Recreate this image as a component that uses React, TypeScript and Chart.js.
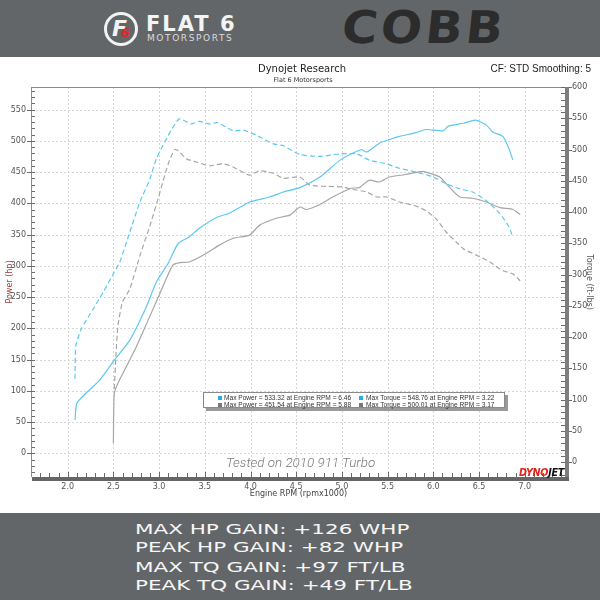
import React, { useEffect, useRef } from 'react';
import { Chart, registerables } from 'chart.js';

Chart.register(...registerables);

// ---------- data ----------
const rpmTicks = [2.0, 2.5, 3.0, 3.5, 4.0, 4.5, 5.0, 5.5, 6.0, 6.5, 7.0];
const powerTicks = [0, 50, 100, 150, 200, 250, 300, 350, 400, 450, 500, 550];
const torqueTicks = [0, 50, 100, 150, 200, 250, 300, 350, 400, 450, 500, 550, 600];

const tunedPowerRpm = [2.08, 2.10, 2.20, 2.35, 2.51, 2.68, 2.86, 2.97, 3.10, 3.21, 3.33, 3.44, 3.64, 3.77, 3.99, 4.21, 4.36, 4.54, 4.76, 4.98, 5.21, 5.27, 5.41, 5.52, 5.63, 5.81, 5.92, 6.11, 6.16, 6.33, 6.46, 6.58, 6.65, 6.76, 6.82, 6.87];
const tunedPowerHp = [53, 80, 96, 117, 149, 181, 234, 274, 304, 336, 346, 360, 378, 384, 402, 410, 418, 425, 442, 469, 486, 482, 496, 502, 507, 513, 518, 516, 523, 528, 533, 525, 514, 507, 490, 469];

const tunedTorqueRpm = [2.08, 2.09, 2.15, 2.28, 2.39, 2.51, 2.57, 2.68, 2.79, 2.90, 2.97, 3.08, 3.22, 3.35, 3.44, 3.55, 3.64, 3.81, 3.92, 4.06, 4.25, 4.36, 4.54, 4.76, 4.98, 5.16, 5.30, 5.49, 5.63, 5.81, 6.00, 6.14, 6.29, 6.43, 6.58, 6.73, 6.82, 6.87];
const tunedTorqueLb = [133, 186, 213, 245, 272, 304, 320, 368, 416, 453, 485, 517, 549, 541, 545, 541, 543, 530, 531, 523, 509, 506, 492, 489, 493, 493, 483, 477, 470, 464, 456, 445, 437, 432, 418, 397, 378, 360];

const stockPowerRpm = [2.50, 2.51, 2.55, 2.64, 2.75, 2.88, 3.01, 3.15, 3.23, 3.33, 3.52, 3.66, 3.81, 3.99, 4.10, 4.28, 4.43, 4.54, 4.61, 4.76, 4.90, 5.10, 5.19, 5.30, 5.41, 5.52, 5.70, 5.88, 5.96, 6.07, 6.18, 6.29, 6.43, 6.58, 6.73, 6.87, 6.95];
const stockPowerHp = [16, 96, 112, 138, 170, 213, 256, 301, 305, 306, 320, 333, 344, 349, 365, 376, 381, 394, 390, 398, 410, 424, 425, 437, 434, 442, 446, 451, 448, 442, 425, 410, 408, 402, 393, 390, 382];

const stockTorqueRpm = [2.51, 2.53, 2.55, 2.60, 2.68, 2.79, 2.90, 3.01, 3.10, 3.17, 3.21, 3.30, 3.41, 3.55, 3.70, 3.81, 3.99, 4.10, 4.25, 4.36, 4.54, 4.65, 4.83, 5.01, 5.12, 5.27, 5.38, 5.49, 5.63, 5.78, 5.92, 6.03, 6.14, 6.25, 6.33, 6.47, 6.62, 6.76, 6.87, 6.95];
const stockTorqueLb = [117, 175, 218, 256, 277, 330, 378, 432, 477, 500, 498, 485, 480, 474, 477, 472, 459, 466, 462, 454, 456, 443, 441, 440, 436, 432, 424, 424, 416, 411, 402, 389, 368, 352, 341, 331, 320, 306, 301, 290];

const legendRows = [
  ['Max Power = 533.32 at Engine RPM = 6.46', 'Max Torque = 548.76 at Engine RPM = 3.22'],
  ['Max Power = 451.54 at Engine RPM = 5.88', 'Max Torque = 500.01 at Engine RPM = 3.17'],
];
const gainLines = ['MAX HP GAIN: +126 WHP', 'PEAK HP GAIN: +82 WHP', 'MAX TQ GAIN: +97 FT/LB', 'PEAK TQ GAIN: +49 FT/LB'];

// ---------- styles ----------
const BLUE = '#5cc8f2';
const GREY = '#a6a6a6';
const BAND = '#636669';
const FONT = '"DejaVu Sans", Verdana, sans-serif';

const pts = (xs: number[], ys: number[]) => xs.map((x, i) => ({ x, y: ys[i] }));

const framePlugin = {
  id: 'dynoFrame',
  beforeDatasetsDraw(chart: any) {
    const { ctx, chartArea: a, scales } = chart;
    const sx = scales.x, sy = scales.y;
    ctx.save();
    ctx.strokeStyle = '#d6d6d6';
    ctx.lineWidth = 1;
    ctx.setLineDash([2, 2]);
    ctx.beginPath();
    for (const v of rpmTicks) {
      const p = Math.round(sx.getPixelForValue(v)) + 0.5;
      ctx.moveTo(p, a.top); ctx.lineTo(p, a.bottom);
    }
    for (const v of powerTicks) {
      const p = Math.round(sy.getPixelForValue(v)) + 0.5;
      ctx.moveTo(a.left, p); ctx.lineTo(a.right, p);
    }
    ctx.stroke();
    ctx.restore();
  },
  afterDatasetsDraw(chart: any) {
    const { ctx, chartArea: a, scales } = chart;
    const sx = scales.x, sy = scales.y, sy1 = scales.y1;
    ctx.save();
    ctx.setLineDash([]);
    ctx.lineWidth = 1;
    ctx.strokeStyle = '#8a8a8a';
    ctx.beginPath();
    ctx.moveTo(a.left - 0.5, a.top + 0.5); ctx.lineTo(a.right, a.top + 0.5);
    ctx.moveTo(a.left - 0.5, a.top); ctx.lineTo(a.left - 0.5, a.bottom);
    ctx.stroke();
    ctx.strokeStyle = '#6a6a6a';
    ctx.beginPath();
    for (let i = 17; i <= 74; i++) {
      const v = i / 10;
      const p = Math.round(sx.getPixelForValue(v)) + 0.5;
      const major = i % 5 === 0;
      ctx.moveTo(p, a.bottom); ctx.lineTo(p, a.bottom - (major ? 5 : 4));
    }
    for (let v = -30; v <= 580; v += 10) {
      const p = Math.round(sy.getPixelForValue(v)) + 0.5;
      const major = v % 50 === 0 && v >= 0;
      ctx.moveTo(a.left - (major ? 5 : 0), p); ctx.lineTo(a.left + 3, p);
    }
    for (let v = -20; v <= 600; v += 10) {
      const p = Math.round(sy1.getPixelForValue(v)) + 0.5;
      const major = v % 50 === 0 && v >= 0;
      ctx.moveTo(a.right - 4, p); ctx.lineTo(a.right + (major ? 7 : 0), p);
    }
    ctx.stroke();
    ctx.fillStyle = '#7d7d7d';
    ctx.fillRect(a.right, a.top, 4, a.bottom - a.top + 4);
    ctx.fillStyle = '#666666';
    ctx.fillRect(a.left, a.bottom, a.right - a.left + 4, 4);
    ctx.restore();
  },
};

function DynoChart() {
  const ref = useRef<HTMLCanvasElement | null>(null);
  useEffect(() => {
    if (!ref.current) return;
    const tickFont = { family: FONT, size: 8 };
    const chart = new Chart(ref.current, {
      type: 'line',
      data: {
        datasets: [
          { label: 'Power tuned', data: pts(tunedPowerRpm, tunedPowerHp), yAxisID: 'y', borderColor: BLUE, borderWidth: 1.2, pointRadius: 0, tension: 0.2 },
          { label: 'Torque tuned', data: pts(tunedTorqueRpm, tunedTorqueLb), yAxisID: 'y1', borderColor: BLUE, borderWidth: 1.2, borderDash: [5, 3], pointRadius: 0, tension: 0.2 },
          { label: 'Power stock', data: pts(stockPowerRpm, stockPowerHp), yAxisID: 'y', borderColor: GREY, borderWidth: 1.2, pointRadius: 0, tension: 0.2 },
          { label: 'Torque stock', data: pts(stockTorqueRpm, stockTorqueLb), yAxisID: 'y1', borderColor: GREY, borderWidth: 1.2, borderDash: [5, 3], pointRadius: 0, tension: 0.2 },
        ],
      },
      options: {
        responsive: false,
        animation: false,
        devicePixelRatio: 1,
        layout: { padding: { top: 87, bottom: 98, left: 0, right: 0 } },
        plugins: { legend: { display: false }, tooltip: { enabled: false } },
        scales: {
          x: {
            type: 'linear', min: 1.61, max: 7.44,
            afterBuildTicks: (s: any) => { s.ticks = rpmTicks.map((value) => ({ value })); },
            afterFit: (s: any) => { s.height = 25; },
            ticks: { font: tickFont, color: '#555', padding: 5, maxRotation: 0, autoSkip: false, callback: (v: any) => Number(v).toFixed(1) },
            grid: { display: false, drawTicks: false },
            border: { display: false },
            title: { display: true, text: 'Engine RPM (rpmx1000)', color: '#444', font: { family: FONT, size: 8 }, padding: { top: 3, bottom: 3 } },
          },
          y: {
            type: 'linear', position: 'left', min: -38, max: 586,
            afterBuildTicks: (s: any) => { s.ticks = powerTicks.map((value) => ({ value })); },
            afterFit: (s: any) => { s.width = 32; },
            ticks: { font: tickFont, color: '#555', padding: 6 },
            grid: { display: false, drawTicks: false },
            border: { display: false },
            title: { display: true, text: 'Power (hp)', color: '#9a3a3a', font: { family: FONT, size: 8 }, padding: { top: 5, bottom: 5 } },
          },
          y1: {
            type: 'linear', position: 'right', min: -24, max: 600,
            afterBuildTicks: (s: any) => { s.ticks = torqueTicks.map((value) => ({ value })); },
            afterFit: (s: any) => { s.width = 35; },
            ticks: { font: tickFont, color: '#555', padding: 7 },
            grid: { display: false, drawTicks: false },
            border: { display: false },
            title: { display: true, text: 'Torque (ft-lbs)', color: '#555', font: { family: FONT, size: 8 }, padding: { top: 6, bottom: 6 } },
          },
        },
      },
      plugins: [framePlugin],
    } as any);
    return () => chart.destroy();
  }, []);
  return <canvas ref={ref} width={600} height={600} style={{ position: 'absolute', left: 0, top: 0, width: 600, height: 600 }} />;
}

const abs = (s: React.CSSProperties): React.CSSProperties => ({ position: 'absolute', whiteSpace: 'nowrap', ...s });

export default function App() {
  return (
    <div style={{ position: 'absolute', left: 0, top: 0, width: 600, height: 600, overflow: 'hidden', background: '#fff', fontFamily: FONT }}>
      <div style={abs({ left: 0, top: 0, width: 600, height: 57, background: BAND })}>
        <div style={abs({ left: 104, top: 12, width: 28, height: 28, border: '3px solid #f2f2f2', borderRadius: '50%' })}>
          <div style={abs({ left: 5, top: 0, fontSize: 22, fontWeight: 'bold', fontStyle: 'italic', color: '#f2f2f2', lineHeight: '28px' })}>F</div>
          <div style={abs({ left: 14, top: 10, fontSize: 13, fontWeight: 'bold', fontStyle: 'italic', color: '#e0262b', lineHeight: '16px' })}>6</div>
        </div>
        <div style={abs({ left: 146, top: 12, fontSize: 21, fontWeight: 'bold', color: '#f4f4f4', letterSpacing: 2, lineHeight: '24px' })}>FLAT 6</div>
        <div style={abs({ left: 147, top: 33, fontSize: 9, color: '#dcdcdc', letterSpacing: 1.6, lineHeight: '10px' })}>MOTORSPORTS</div>
        <div style={abs({ left: 342, top: 3, fontSize: 45, fontWeight: 900, color: '#2c2c2c', letterSpacing: 3, lineHeight: '50px', transform: 'skewX(-6deg) scaleX(1.08)', transformOrigin: 'left center' })}>COBB</div>
      </div>

      <DynoChart />

      <div style={abs({ left: 0, width: 604, top: 63, textAlign: 'center', fontSize: 10, color: '#222', lineHeight: '12px' })}>Dynojet Research</div>
      <div style={abs({ left: 0, width: 606, top: 76, textAlign: 'center', fontSize: 6.5, color: '#333', lineHeight: '8px' })}>Flat 6 Motorsports</div>
      <div style={abs({ right: 9, top: 63, fontSize: 10, color: '#222', lineHeight: '12px', fontFamily: '"Liberation Sans", Arial, sans-serif' })}>CF: STD Smoothing: 5</div>

      <div style={abs({ left: 203, top: 392, width: 300, height: 14, border: '1px solid #8a8a8a', background: '#fff', boxShadow: '3px 3px 0 #9a9a9a', fontSize: 6.6, color: '#333', fontFamily: '"Liberation Sans", Arial, sans-serif' })}>
        {legendRows.map((row, r) => (
          <React.Fragment key={r}>
            {row.map((t, c) => (
              <React.Fragment key={c}>
                <div style={abs({ left: c === 0 ? 14 : 155, top: 2 + r * 7 + 1, width: 4, height: 4, background: r === 0 ? '#29abe2' : '#777' })} />
                <div style={abs({ left: c === 0 ? 20 : 162, top: 1 + r * 7, lineHeight: '7px' })}>{t}</div>
              </React.Fragment>
            ))}
          </React.Fragment>
        ))}
      </div>

      <div style={abs({ left: 226, top: 454, fontSize: 13.4, fontStyle: 'italic', fontWeight: 300, color: '#7a7a7a', fontFamily: 'Roboto, sans-serif', lineHeight: '18px' })}>Tested on 2010 911 Turbo</div>
      <div style={abs({ left: 519, top: 468, fontSize: 9.6, fontStyle: 'italic', fontWeight: 'bold', lineHeight: '9px', letterSpacing: -0.3 })}>
        <span style={{ color: '#e2231a' }}>DYNO</span><span style={{ color: '#111' }}>JET</span>
      </div>

      <div style={abs({ left: 0, top: 513, width: 600, height: 87, background: BAND })}>
        {gainLines.map((t, i) => (
          <div key={i} style={abs({ left: 135, top: [7, 25, 45, 63][i], fontSize: 14.5, color: '#f6f6f6', lineHeight: '18px', transform: 'scaleX(1.48)', transformOrigin: 'left center' })}>{t}</div>
        ))}
      </div>
    </div>
  );
}
